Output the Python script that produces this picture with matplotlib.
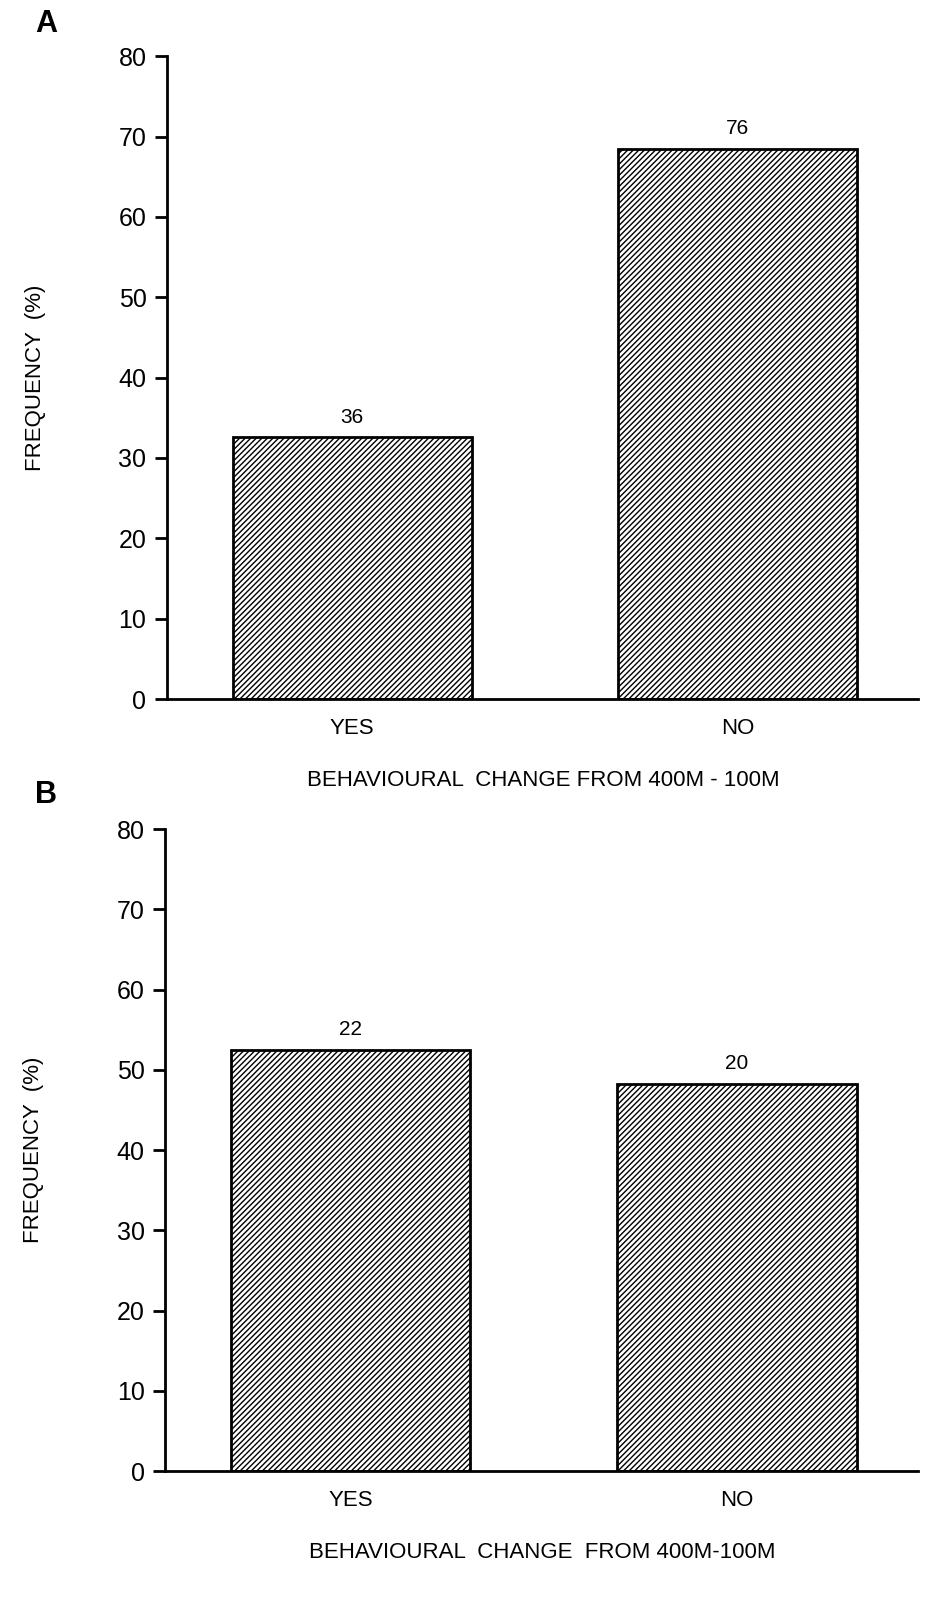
import matplotlib
matplotlib.use("Agg")
import matplotlib.pyplot as plt

plt.rcParams["font.family"] = ["Liberation Sans", "DejaVu Sans"]
plt.rcParams["hatch.linewidth"] = 1.0

categories = ["YES", "NO"]
freq_a = [32.6, 68.5]
counts_a = [36, 76]
freq_b = [52.5, 48.3]
counts_b = [22, 20]
yticks = [0, 10, 20, 30, 40, 50, 60, 70, 80]

fig = plt.figure(figsize=(9.4, 16.07), dpi=100)


def panel(rect, freqs, counts, xlabel, letter, letter_y):
    ax = fig.add_axes(rect)
    x = range(len(categories))
    bars = ax.bar(x, freqs, width=0.62, color="white", edgecolor="black",
                  linewidth=2, hatch="//////")
    for b, c in zip(bars, counts):
        ax.text(b.get_x() + b.get_width() / 2, b.get_height() + 1.3, str(c),
                ha="center", va="bottom", fontsize=15)
    ax.set_xlim(-0.48, 1.47)
    ax.set_ylim(0, 80)
    ax.set_yticks(yticks)
    ax.set_xticks(list(x))
    ax.set_xticklabels(categories, fontsize=16)
    ax.tick_params(axis="x", length=0, pad=14)
    ax.tick_params(axis="y", direction="out", length=9, width=2,
                   labelsize=18, pad=6)
    for s in ("top", "right"):
        ax.spines[s].set_visible(False)
    for s in ("left", "bottom"):
        ax.spines[s].set_linewidth(2)
    ax.set_xlabel(xlabel, fontsize=16, labelpad=22)
    ax.set_ylabel("FREQUENCY  (%)", fontsize=16, labelpad=52)
    fig.text(0.037, letter_y, letter, fontsize=22, fontweight="bold",
             ha="left", va="center")
    return ax


panel([0.178, 0.565, 0.799, 0.4], freq_a, counts_a,
      "BEHAVIOURAL  CHANGE FROM 400M - 100M", "A", 0.985)
panel([0.176, 0.0846, 0.801, 0.3994], freq_b, counts_b,
      "BEHAVIOURAL  CHANGE  FROM 400M-100M", "B", 0.505)

fig.savefig("out.png", dpi=100)
